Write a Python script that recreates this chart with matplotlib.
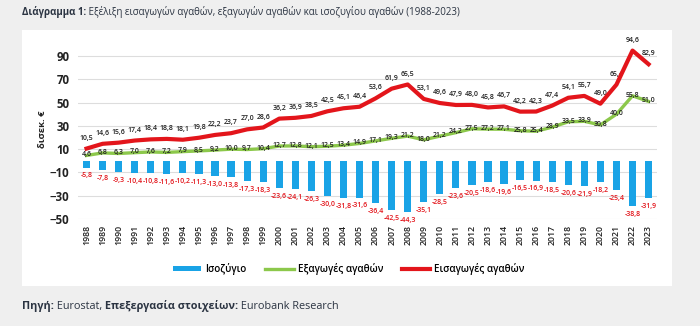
import matplotlib.pyplot as plt
from matplotlib.patches import Rectangle

# goods trade, bn EUR
years = [str(y) for y in range(1988, 2024)]
imports = [10.5, 14.6, 15.6, 17.4, 18.4, 18.8, 18.1, 19.8, 22.2, 23.7, 27.0, 28.6,
           36.2, 36.9, 38.5, 42.5, 45.1, 46.4, 53.6, 61.9, 65.5, 53.1, 49.6, 47.9,
           48.0, 45.8, 46.7, 42.2, 42.3, 47.4, 54.1, 55.7, 49.0, 65.4, 94.6, 82.9]
exports = [4.6, 6.8, 6.3, 7.0, 7.6, 7.2, 7.9, 8.5, 9.2, 10.0, 9.7, 10.4,
           12.7, 12.8, 12.1, 12.5, 13.4, 14.9, 17.1, 19.3, 21.2, 18.0, 21.2, 24.2,
           27.5, 27.2, 27.1, 25.8, 25.4, 28.9, 33.5, 33.9, 30.8, 40.0, 55.8, 51.0]
balance = [-5.8, -7.8, -9.3, -10.4, -10.8, -11.6, -10.2, -11.3, -13.0, -13.8, -17.3, -18.3,
           -23.6, -24.1, -26.3, -30.0, -31.8, -31.6, -36.4, -42.5, -44.3, -35.1, -28.5, -23.6,
           -20.5, -18.6, -19.6, -16.5, -16.9, -18.5, -20.6, -21.9, -18.2, -25.4, -38.8, -31.9]
yticks = [-50, -30, -10, 10, 30, 50, 70, 90]

BLUE = "#19a3e6"
GREEN = "#8cc84b"
RED = "#e3151b"
TXT = "#2b3442"

plt.rcParams['font.family'] = ['Open Sans', 'DejaVu Sans']

fig = plt.figure(figsize=(7, 3.26), dpi=100, facecolor="#efefef")
# white panel behind the chart
fig.patches.append(Rectangle((22 / 700, 1 - 286 / 326), 650 / 700, 256 / 326,
                             transform=fig.transFigure, facecolor="white",
                             edgecolor="none", zorder=0))

ax = fig.add_axes([0.111, 0.328, 0.827, 0.554])
ax.set_zorder(2)
ax.set_facecolor("none")
x = list(range(len(years)))

hb = ax.bar(x, balance, width=0.45, color=BLUE, zorder=2)
he, = ax.plot(x, exports, color=GREEN, lw=2.4, zorder=3)
hi, = ax.plot(x, imports, color=RED, lw=3.0, zorder=4)

def fmt(v):
    return f"{v:.1f}".replace(".", ",")

for i in x:
    ax.annotate(fmt(imports[i]), (i, imports[i]), xytext=(0, 5), textcoords="offset points",
                ha="center", va="bottom", fontsize=5, color="#222222", fontweight="semibold")
    ax.annotate(fmt(exports[i]), (i, exports[i]), xytext=(0, 0.5), textcoords="offset points",
                ha="center", va="center", fontsize=5, color="#222222", fontweight="semibold", zorder=5)
    ax.annotate(fmt(balance[i]), (i, balance[i]), xytext=(0, -3.5), textcoords="offset points",
                ha="center", va="top", fontsize=5, color=RED, fontweight="semibold")

ax.set_xlim(-0.55, 35.5)
ax.set_ylim(-50, 105)
ax.set_yticks(yticks)
ax.set_xticks(x)
ax.set_xticklabels(years, rotation=90, fontsize=6.3, fontweight="semibold", color="#222222")
ax.tick_params(axis="y", labelsize=8.3, length=0, pad=6, labelcolor="#222222")
for t in ax.get_yticklabels():
    t.set_fontweight("bold")
ax.tick_params(axis="x", length=0, pad=4)
ax.grid(axis="y", color="#dddddd", lw=0.8, zorder=0)
for s in ax.spines.values():
    s.set_visible(False)
ax.set_ylabel("δισεκ. €", fontsize=6.8, fontweight="bold", color="#222222", labelpad=2)

ax.legend([hb, he, hi], ["Ισοζύγιο", "Εξαγωγές αγαθών", "Εισαγωγές αγαθών"],
          loc="center", bbox_to_anchor=(0.468, -0.277), ncol=3, frameon=False,
          prop={"size": 7.1, "weight": "semibold"}, handlelength=2.9, handletextpad=0.4,
          columnspacing=1.9, handleheight=0.5)

# title and source lines: bold lead-ins followed by plain text on one baseline
renderer = fig.canvas.get_renderer()

def rich_line(x0, y0, pieces, size=7):
    xpos = x0
    for txt, weight in pieces:
        t = fig.text(xpos, y0, txt, fontsize=size, fontweight=weight, color=TXT, va="baseline")
        w = t.get_window_extent(renderer).width
        xpos += w / fig.bbox.width

rich_line(22 / 700, 1 - 15 / 326,
          [("Διάγραμμα 1:", "bold"),
           (" Εξέλιξη εισαγωγών αγαθών, εξαγωγών αγαθών και ισοζυγίου αγαθών (1988-2023)", "normal")])
rich_line(22 / 700, 1 - 309 / 326,
          [("Πηγή:", "bold"), (" Eurostat,", "normal"),
           (" Επεξεργασία στοιχείων:", "bold"), (" Eurobank Research", "normal")], size=7.8)

fig.savefig("out.png", dpi=100, facecolor=fig.get_facecolor())
